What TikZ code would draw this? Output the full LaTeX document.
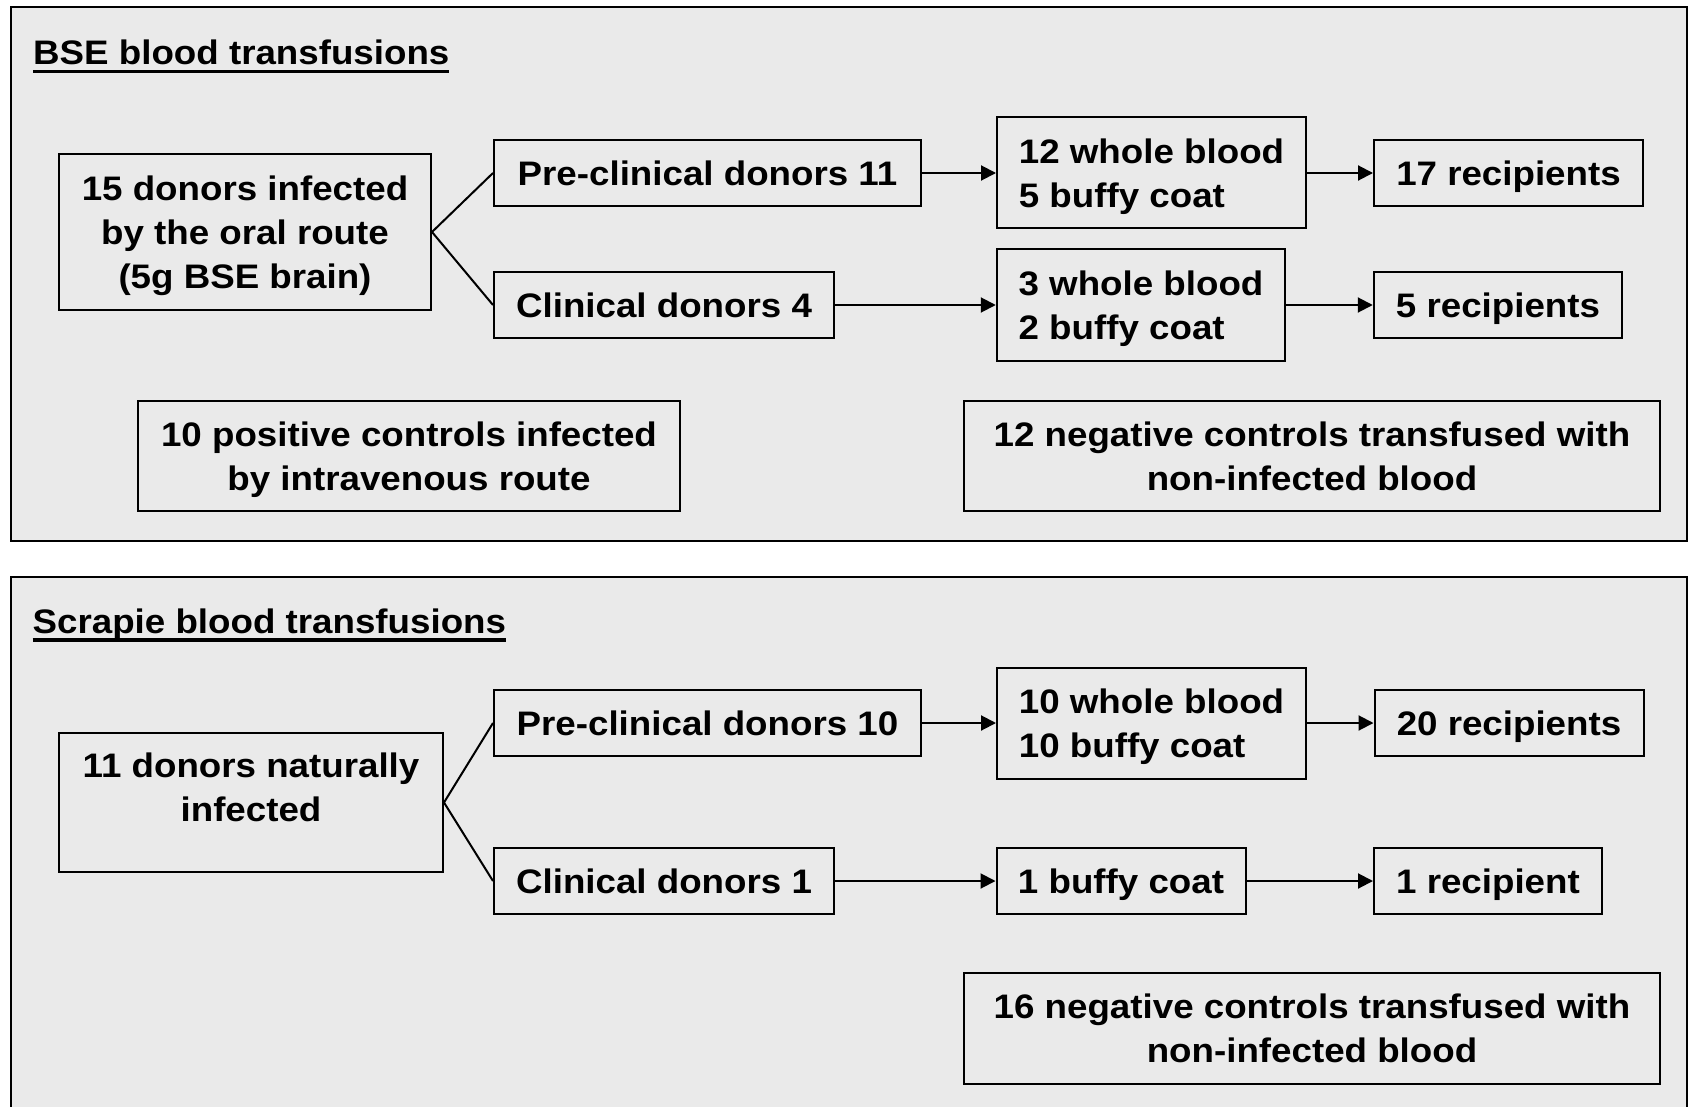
\documentclass[tikz,border=0pt]{standalone}
\usepackage{fontspec}
\setmainfont{Liberation Sans}[FakeStretch=1.08]
\usepackage{xcolor}
\usetikzlibrary{arrows.meta}
\definecolor{panelgray}{RGB}{234,234,234}
\tikzset{>={Triangle[length=15pt,width=15pt]}}
\newcommand{\headline}[1]{\setbox0\hbox{#1}\rlap{\copy0}\rule[-8.5pt]{\wd0}{3.5pt}}

\begin{document}
\begin{tikzpicture}[x=1pt,y=-1pt,
  panel/.style={draw,fill=panelgray,line width=2pt},
  box/.style={draw,fill=panelgray,line width=2pt,align=center,inner sep=0pt,
    font=\fontsize{34}{44}\selectfont\bfseries,text height=31pt,text depth=6.7pt},
  two/.style={text height=75pt},
  three/.style={text height=119pt},
  heading/.style={anchor=base west,inner sep=0pt,font=\fontsize{34}{44}\selectfont\bfseries},
  link/.style={line width=2pt},
  arr/.style={line width=2pt,->}]

\useasboundingbox (0,0) rectangle (1688,1107);

% Panels
\draw[panel] (11,7) rectangle (1686.5,541);
\draw[panel] (11,577) rectangle (1686.5,1130);

% BSE
\node[heading] (bsetitle) at (33,65) {\headline{BSE blood transfusions}};

\node[box,three,minimum width=372pt,minimum height=156pt] (don1) at (245,232) {15 donors infected\\by the oral route\\(5g BSE brain)};
\node[box,minimum width=427pt,minimum height=66pt] (pre1) at (707.5,173) {Pre-clinical donors 11};
\node[box,minimum width=340pt,minimum height=66pt] (cli1) at (664,305) {Clinical donors 4};
\node[box,two,align=left,minimum width=309pt,minimum height=111pt] (wb1) at (1151.5,173) {12 whole blood\\5 buffy coat};
\node[box,two,align=left,minimum width=288.5pt,minimum height=111pt] (wb2) at (1141,305) {3 whole blood\\2 buffy coat};
\node[box,minimum width=269pt,minimum height=66pt] (rec1) at (1508.5,173) {17 recipients};
\node[box,minimum width=248.5pt,minimum height=66pt] (rec2) at (1498,305) {5 recipients};
\node[box,two,minimum width=542.5pt,minimum height=110.5pt] (pos1) at (409,456) {10 positive controls infected\\by intravenous route};
\node[box,two,minimum width=695.5pt,minimum height=110.5pt] (neg1) at (1312,456) {12 negative controls transfused with\\non-infected blood};

\draw[link] (don1.east) -- (pre1.west);
\draw[link] (don1.east) -- (cli1.west);
\draw[arr] (pre1.east) -- (wb1.west);
\draw[arr] (cli1.east) -- (wb2.west);
\draw[arr] (wb1.east) -- (rec1.west);
\draw[arr] (wb2.east) -- (rec2.west);

% Scrapie
\node[heading] (scrtitle) at (32.5,633) {\headline{Scrapie blood transfusions}};

\node[box,text height=45pt,minimum width=384pt,minimum height=139.6pt] (don2) at (251,802.5) {11 donors naturally\\infected};
\node[box,minimum width=427pt,minimum height=66pt] (pre2) at (707.5,723) {Pre-clinical donors 10};
\node[box,minimum width=340pt,minimum height=66pt] (cli2) at (664,881) {Clinical donors 1};
\node[box,two,align=left,minimum width=309pt,minimum height=111pt] (wb3) at (1151.5,723) {10 whole blood\\10 buffy coat};
\node[box,minimum width=249pt,minimum height=66pt] (bc) at (1121,881) {1 buffy coat};
\node[box,minimum width=269pt,minimum height=66pt] (rec3) at (1509,723) {20 recipients};
\node[box,minimum width=228pt,minimum height=66pt] (rec4) at (1488,881) {1 recipient};
\node[box,two,minimum width=696pt,minimum height=111pt] (neg2) at (1312,1028) {16 negative controls transfused with\\non-infected blood};

\draw[link] (don2.east) -- (pre2.west);
\draw[link] (don2.east) -- (cli2.west);
\draw[arr] (pre2.east) -- (wb3.west);
\draw[arr] (cli2.east) -- (bc.west);
\draw[arr] (wb3.east) -- (rec3.west);
\draw[arr] (bc.east) -- (rec4.west);

\end{tikzpicture}
\end{document}
